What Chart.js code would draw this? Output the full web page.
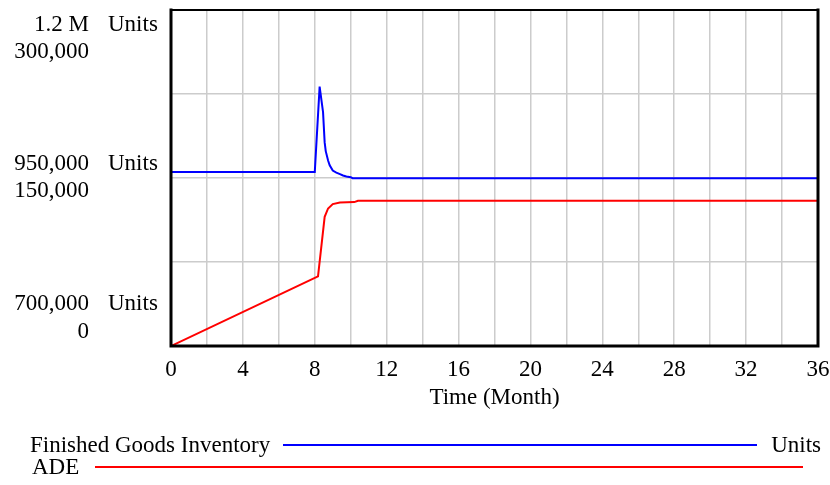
<!DOCTYPE html>
<html>
<head>
<meta charset="utf-8">
<script src="https://cdn.jsdelivr.net/npm/chart.js@4.4.1/dist/chart.umd.min.js"></script>
<style>
  html, body { margin: 0; padding: 0; background: #fff; }
  #wrap { width: 830px; height: 485px; }
</style>
</head>
<body>
<div id="wrap"><canvas id="chart" width="830" height="485"></canvas></div>
<script>
// Finished Goods Inventory (Units) over time
const fgiTime = [0, 8, 8.27, 8.46, 8.55, 8.61, 8.74, 8.83, 9.0, 9.2, 9.4, 9.57, 9.76, 10.0, 10.1, 36];
const fgiUnits = [959000, 959000, 1086000, 1048000, 1003000, 990000, 976000, 969000, 961000, 958000, 955700, 953700, 952200, 951200, 949700, 949700];

// ADE (Units) over time
const adeTime = [0, 8.18, 8.55, 8.74, 9.0, 9.4, 10.2, 10.4, 36];
const adeUnits = [0, 62200, 115300, 122800, 126700, 128200, 128500, 129700, 129700];

// left-hand axis labels: value, text
const fgiTicks = [1200000, 950000, 700000];
const fgiTickText = ['1.2 M', '950,000', '700,000'];
const adeTicks = [300000, 150000, 0];
const adeTickText = ['300,000', '150,000', '0'];

const FONT = 'Liberation Serif, Times New Roman, serif';
const FSIZE = 23;
const BLUE = '#0000ff';
const RED = '#ff0000';

function pts(xs, ys) {
  return xs.map((x, i) => ({ x: x, y: ys[i] }));
}

// frame, stacked axis labels and the legend rows
const vensimDecor = {
  id: 'vensimDecor',
  afterDraw(chart) {
    const ctx = chart.ctx;
    const a = chart.chartArea;
    const yF = chart.scales.y;
    const yA = chart.scales.y2;

    ctx.save();
    ctx.strokeStyle = '#000';
    ctx.lineCap = 'square';
    ctx.lineWidth = 2;
    ctx.beginPath(); ctx.moveTo(a.left, a.top); ctx.lineTo(a.right, a.top); ctx.stroke();
    ctx.lineWidth = 3;
    ctx.beginPath();
    ctx.moveTo(a.left, a.top); ctx.lineTo(a.left, a.bottom);
    ctx.lineTo(a.right, a.bottom); ctx.lineTo(a.right, a.top);
    ctx.stroke();

    ctx.font = FSIZE + 'px ' + FONT;
    ctx.fillStyle = '#000';
    ctx.textBaseline = 'middle';
    // label pairs are kept inside the plot height
    const shifts = [[15, 42], [-14.5, 12.5], [-42, -14.5]];
    fgiTicks.forEach((v, i) => {
      const py = yF.getPixelForValue(v);
      const pa = yA.getPixelForValue(adeTicks[i]);
      ctx.textAlign = 'right';
      ctx.fillText(fgiTickText[i], 89, py + shifts[i][0]);
      ctx.fillText(adeTickText[i], 89, pa + shifts[i][1]);
      ctx.textAlign = 'left';
      ctx.fillText('Units', 108, py + shifts[i][0]);
    });

    // legend
    const ds = chart.data.datasets;
    ctx.textAlign = 'left';
    ctx.fillText(ds[0].label, 30, 446);
    ctx.fillText(ds[1].label, 32, 468);
    ctx.textAlign = 'right';
    ctx.fillText('Units', 821, 446);
    ctx.lineWidth = 2;
    ctx.lineCap = 'butt';
    ctx.strokeStyle = ds[0].borderColor;
    ctx.beginPath(); ctx.moveTo(283, 445); ctx.lineTo(757, 445); ctx.stroke();
    ctx.strokeStyle = ds[1].borderColor;
    ctx.beginPath(); ctx.moveTo(95, 467); ctx.lineTo(803, 467); ctx.stroke();
    ctx.restore();
  }
};

new Chart(document.getElementById('chart'), {
  type: 'line',
  data: {
    datasets: [
      {
        label: 'Finished Goods Inventory',
        data: pts(fgiTime, fgiUnits),
        borderColor: BLUE,
        borderWidth: 2,
        pointRadius: 0,
        tension: 0,
        yAxisID: 'y'
      },
      {
        label: 'ADE',
        data: pts(adeTime, adeUnits),
        borderColor: RED,
        borderWidth: 2,
        pointRadius: 0,
        tension: 0,
        yAxisID: 'y2'
      }
    ]
  },
  options: {
    responsive: false,
    animation: false,
    layout: { padding: { left: 171, right: 12, top: 10, bottom: 72 } },
    plugins: { legend: { display: false }, tooltip: { enabled: false } },
    scales: {
      x: {
        type: 'linear',
        min: 0,
        max: 36,
        afterFit(scale) {
          // end labels may hang over the frame
          scale.paddingLeft = 0;
          scale.paddingRight = 0;
        },
        grid: { color: '#cccccc', lineWidth: 1.5, drawTicks: false },
        border: { display: false },
        ticks: {
          stepSize: 2,
          autoSkip: false,
          maxRotation: 0,
          padding: 12,
          color: '#000',
          font: { family: FONT, size: FSIZE, lineHeight: 1.0 },
          callback: v => (v % 4 === 0 ? String(v) : '')
        },
        title: {
          display: true,
          text: 'Time (Month)',
          color: '#000',
          font: { family: FONT, size: FSIZE, lineHeight: 1.0 },
          padding: { top: -7, bottom: 4 }
        }
      },
      y: {
        position: 'left',
        min: 700000,
        max: 1200000,
        grid: { color: '#cccccc', lineWidth: 1.5, drawTicks: false },
        border: { display: false },
        ticks: { display: false, stepSize: 125000 }
      },
      y2: {
        position: 'left',
        display: false,
        min: 0,
        max: 300000
      }
    }
  },
  plugins: [vensimDecor]
});
</script>
</body>
</html>
